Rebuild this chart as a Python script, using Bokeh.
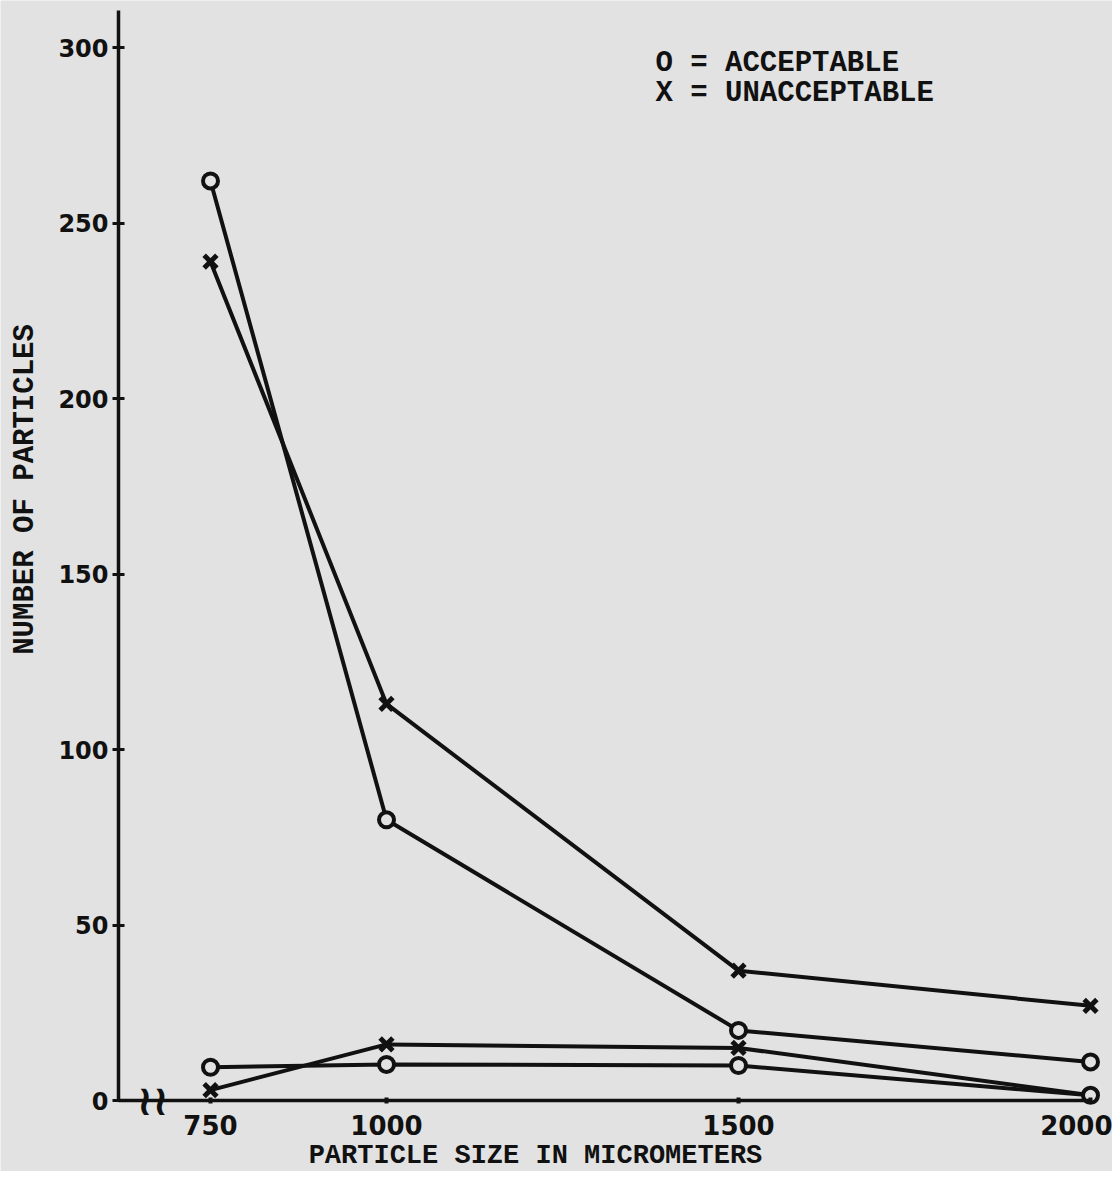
from bokeh.plotting import figure
from bokeh.models import Range1d, LinearAxis, FixedTicker, Label
from bokeh.embed import file_html
from bokeh.resources import INLINE

# ---- data ----
sizes = [750, 1000, 1500, 2000]
acceptable_high = [262, 80, 20, 11]
unacceptable_high = [239, 113, 37, 27]
unacceptable_low = [3, 16, 15, 1.5]
acceptable_low = [9.5, 10.3, 10, 1.5]
y_ticks = [0, 50, 100, 150, 200, 250, 300]
x_ticks = [750, 1000, 1500, 2000]
x_title = "PARTICLE SIZE IN MICROMETERS"
y_title = "NUMBER OF PARTICLES"
legend_lines = ["O = ACCEPTABLE", "X = UNACCEPTABLE"]

INK = "#111111"
BG = "#e2e2e2"
MONO = "Liberation Mono"
SANS = "DejaVu Sans"

X0 = 619.3  # location of the vertical axis (left of broken x axis)

p = figure(width=1112, height=1171,
           x_range=Range1d(451.7, 2031.25), y_range=Range1d(-20.2, 313.4),
           x_axis_type=None, y_axis_type=None,
           output_backend="svg", toolbar_location=None, min_border=0)
p.background_fill_color = BG
p.border_fill_color = BG
p.outline_line_color = None

yax = LinearAxis(ticker=FixedTicker(ticks=y_ticks), fixed_location=X0, bounds=(0, 310.5))
yax.axis_line_width = 3.5
yax.axis_line_color = INK
yax.major_tick_line_width = 3
yax.major_tick_line_color = INK
yax.major_tick_in = 6
yax.major_tick_out = 6
yax.minor_tick_line_color = None
yax.major_label_text_font = SANS
yax.major_label_text_font_style = "bold"
yax.major_label_text_font_size = "24px"
yax.major_label_text_color = INK
yax.major_label_standoff = 4
p.add_layout(yax, "left")

xax = LinearAxis(ticker=FixedTicker(ticks=x_ticks), fixed_location=0, bounds=(X0, 2000))
xax.axis_line_width = 3.5
xax.axis_line_color = INK
xax.major_tick_line_width = 4
xax.major_tick_line_color = INK
xax.major_tick_in = 3
xax.major_tick_out = 3
xax.minor_tick_line_color = None
xax.major_label_text_font = SANS
xax.major_label_text_font_style = "bold"
xax.major_label_text_font_size = "26px"
xax.major_label_text_color = INK
xax.major_label_standoff = 11
p.add_layout(xax, "below")

# series lines
for vals in (acceptable_high, unacceptable_high, unacceptable_low, acceptable_low):
    p.line(sizes, vals, line_width=4, line_color=INK)

for vals in (unacceptable_high, unacceptable_low):
    p.scatter(sizes, vals, marker="x", size=18, line_width=5, line_color=INK)
for vals in (acceptable_high, acceptable_low):
    p.scatter(sizes, vals, marker="circle", size=15, line_width=4,
              line_color=INK, fill_color=BG)

# axis break symbol
p.add_layout(Label(x=668, y=0, text="\u2240\u2240", text_font=SANS, text_font_style="bold",
                   text_font_size="42px", text_color=INK, text_align="center",
                   text_baseline="middle", background_fill_color=None))

# titles
p.add_layout(Label(x=1211.6, y=-15.9, text=x_title, text_font=MONO, text_font_style="bold",
                   text_font_size="27px", text_color=INK, text_align="center",
                   text_baseline="middle"))
p.add_layout(Label(x=487.2, y=174.1, text=y_title, text_font=MONO, text_font_style="bold",
                   text_font_size="29px", text_color=INK, text_align="center",
                   text_baseline="middle", angle=1.5708))

# legend text
for i, t in enumerate(legend_lines):
    p.add_layout(Label(x=1382, y=295.4 - i * 8.5, text=t, text_font=MONO, text_font_style="bold",
                       text_font_size="29px", text_color=INK, text_align="left",
                       text_baseline="middle"))

open("out.html", "w").write(file_html(p, INLINE))
